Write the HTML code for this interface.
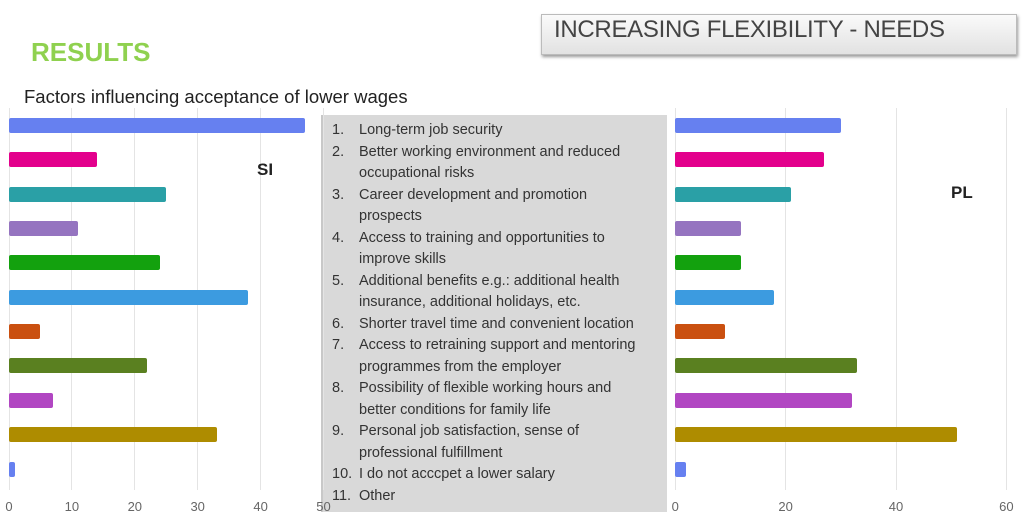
<!DOCTYPE html>
<html><head><meta charset="utf-8"><style>
body{margin:0;width:1024px;height:523px;background:#fff;font-family:"Liberation Sans",sans-serif;position:relative;overflow:hidden}
.abs{position:absolute}
.bar{position:absolute;height:15px;border-radius:2px}
.grid{position:absolute;top:108px;height:382px;width:1px;background:#e4e4e4}
.tick{position:absolute;top:499px;font-size:13px;color:#666;width:30px;margin-left:-15px;text-align:center}
.li{position:absolute;font-size:14.5px;color:#333;white-space:nowrap;line-height:16px}
</style></head><body>
<div class="abs" style="left:541px;top:14px;width:474px;height:39px;background:linear-gradient(#fafafa,#e2e2e2);border:1px solid #bbb;box-shadow:1px 2px 3px #999"></div>
<div class="abs" style="left:554px;top:16px;font-size:24px;color:#444;letter-spacing:-0.3px">INCREASING FLEXIBILITY - NEEDS</div>
<div class="abs" style="left:31px;top:37px;font-size:26px;font-weight:bold;color:#8fd14f">RESULTS</div>
<div class="abs" style="left:24px;top:86px;font-size:18.5px;color:#222">Factors influencing acceptance of lower wages</div>
<div class="abs" style="left:321px;top:115px;width:344px;height:397px;background:#d9d9d9;border-left:2px solid #c8c8c8"></div>
<div id="c"></div>
<div class="abs" style="left:257px;top:160px;font-size:17px;font-weight:bold;color:#222">SI</div>
<div class="abs" style="left:951px;top:183px;font-size:17px;font-weight:bold;color:#222">PL</div>
<script>
var cols=["#6680f0","#e3008c","#2aa0a6","#9574c0","#13a10e","#3c9be0","#ca5010","#5a8020","#b146c2","#ae8c00","#6680f0"];
var si=[47,14,25,11,24,38,5,22,7,33,1],pl=[30,27,21,12,12,18,9,33,32,51,2];
var h="";
for(var v=0;v<=50;v+=10){var x=8.5+v*6.29;h+='<div class="grid" style="left:'+x+'px"></div><div class="tick" style="left:'+(x+0.5)+'px">'+v+'</div>';}
for(var v=0;v<=60;v+=20){var x=674.7+v*5.52;h+='<div class="grid" style="left:'+x+'px"></div><div class="tick" style="left:'+(x+0.5)+'px">'+v+'</div>';}
for(var i=0;i<11;i++){var y=118+34.35*i;
h+='<div class="bar" style="left:9px;top:'+y+'px;width:'+(si[i]*6.29)+'px;background:'+cols[i]+'"></div>';
h+='<div class="bar" style="left:675px;top:'+y+'px;width:'+(pl[i]*5.52)+'px;background:'+cols[i]+'"></div>';}
var L=[["1.","Long-term job security"],["2.","Better working environment and reduced"],["","occupational risks"],["3.","Career development and promotion"],["","prospects"],["4.","Access to training and opportunities to"],["","improve skills"],["5.","Additional benefits e.g.: additional health"],["","insurance, additional holidays, etc."],["6.","Shorter travel time and convenient location"],["7.","Access to retraining support and mentoring"],["","programmes from the employer"],["8.","Possibility of flexible working hours and"],["","better conditions for family life"],["9.","Personal job satisfaction, sense of"],["","professional fulfillment"],["10.","I do not acccpet a lower salary"],["11.","Other"]];
for(var j=0;j<L.length;j++){var y=122+21.5*j;
h+='<div class="li" style="left:332px;top:'+y+'px">'+L[j][0]+'</div><div class="li" style="left:359px;top:'+y+'px">'+L[j][1]+'</div>';}
document.getElementById("c").innerHTML=h;
</script>
</body></html>
